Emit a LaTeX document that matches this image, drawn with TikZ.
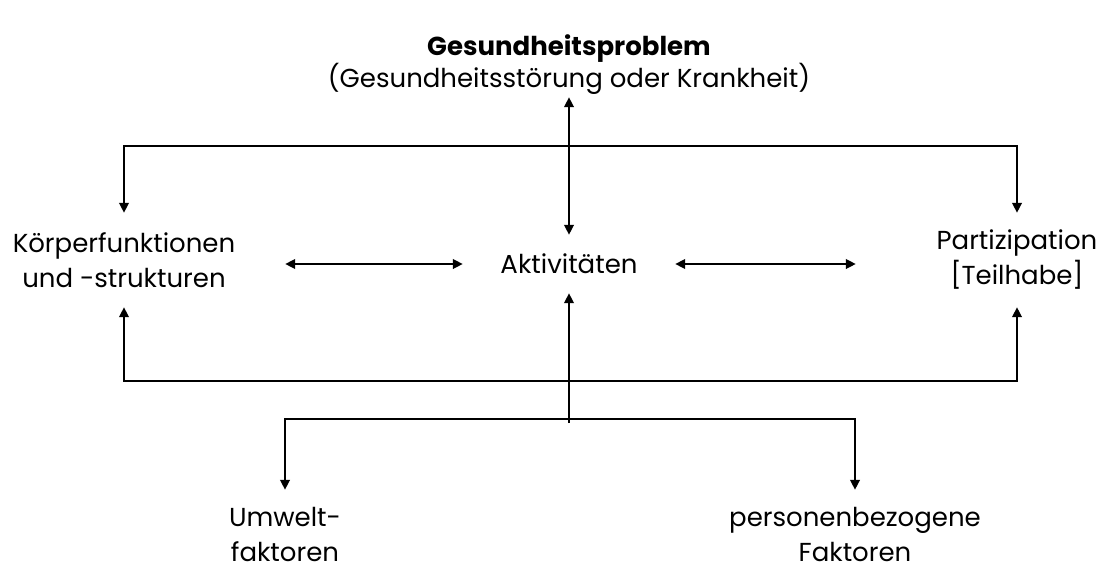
\documentclass[tikz,border=0pt]{standalone}
\usepackage{fontspec}
\setmainfont{Poppins}
\usetikzlibrary{arrows.meta}
\begin{document}
\begin{tikzpicture}[x=1pt,y=-1pt,
  label/.style={inner sep=0pt,align=center,
    font=\fontsize{26}{35}\selectfont},
  link/.style={line width=2.3pt,line join=miter,
    arrows={-Triangle[length=10pt,width=9.5pt]}},
  dlink/.style={link,arrows={Triangle[length=10pt,width=9.5pt]-Triangle[length=10pt,width=9.5pt]}}]
\useasboundingbox (0,0) rectangle (1099,568);

% concepts
\node[label,font=\fontsize{26}{32}\selectfont,minimum height=64] (prob) at (569,65)
  {{\bfseries Gesundheitsproblem}\\(Gesundheitsstörung oder Krankheit)};
\node[label,minimum height=94,minimum width=322] (koerper) at (124,260)
  {Körperfunktionen\\und -strukturen};
\node[label,minimum height=58,minimum width=212] (akt) at (569,264)
  {Aktivitäten};
\node[label,minimum height=94,minimum width=322] (part) at (1017,260)
  {Partizipation\\{[Teilhabe]}};
\node[label,minimum height=88] (umwelt) at (285,534)
  {Umwelt-\\faktoren};
\node[label,minimum height=88] (pers) at (855,534)
  {personenbezogene\\Faktoren};

% junctions of the bars
\coordinate (topbar) at (569,146);
\coordinate (botbar) at (569,381);
\coordinate (ctxbar) at (569,419);
\coordinate (stem) at (569,423);

% interactions
\draw[dlink] (prob.south) -- (akt.north);
\draw[dlink] (koerper.east |- akt.west) -- (akt.west);
\draw[dlink] (akt.east) -- (part.west |- akt.east);
\draw[dlink] (koerper.north) |- (topbar) -| (part.north);
\draw[dlink] (koerper.south) |- (botbar) -| (part.south);

% context factors
\draw[link] (stem) -- (akt.south);
\draw[link] (ctxbar) -| (umwelt.north);
\draw[link] (ctxbar) -| (pers.north);
\end{tikzpicture}
\end{document}
